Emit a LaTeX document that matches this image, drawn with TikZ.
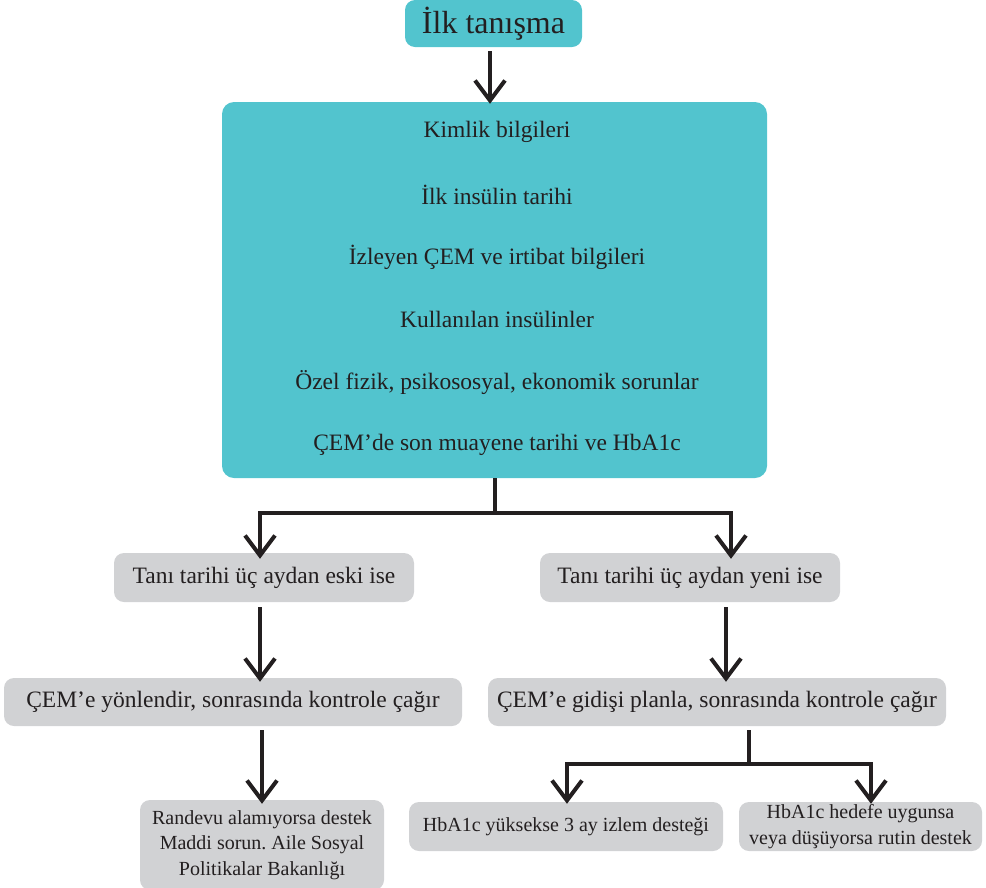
\documentclass[tikz,border=0pt]{standalone}
\usepackage{fontspec}
\setmainfont{Liberation Serif}
\usetikzlibrary{arrows.meta}
\definecolor{teal1}{HTML}{52C4CE}
\definecolor{gray1}{HTML}{D1D2D4}
\definecolor{ink}{HTML}{231F20}
\frenchspacing
\begin{document}
\begin{tikzpicture}[x=1pt,y=-1pt,
  tealbox/.style={fill=teal1,rounded corners=10pt,inner sep=0pt,text=ink},
  graybox/.style={fill=gray1,rounded corners=10pt,inner sep=0pt,text=ink,align=center},
  conn/.style={draw=ink,line width=4pt},
  arr/.style={conn,-{Straight Barb[length=20pt,width=30pt,line width=4pt]}},
  midtext/.style={font=\fontsize{23.5}{28}\selectfont},
  smalltext/.style={font=\fontsize{20}{25.5}\selectfont}
]
\useasboundingbox (0,0) rectangle (986,887);

% top node
\node[tealbox,minimum width=177pt,minimum height=47pt,font=\fontsize{32}{36}\selectfont] (top) at (493.5,23.5) {İlk tanışma};

% big box
\node[tealbox,minimum width=545pt,minimum height=376pt,rounded corners=12pt] (big) at (494.5,290) {};
\foreach \t [count=\i from 0] in {Kimlik bilgileri,İlk insülin tarihi,İzleyen ÇEM ve irtibat bilgileri,Kullanılan insülinler,{Özel fizik, psikososyal, ekonomik sorunlar},ÇEM’de son muayene tarihi ve HbA1c}
  \node[midtext,text=ink] (l\i) at (497,{132+62.6*\i}) {\t};

% second level
\node[graybox,midtext,minimum width=300pt,minimum height=49pt] (eski) at (264,577.5) {Tanı tarihi üç aydan eski ise};
\node[graybox,midtext,minimum width=300pt,minimum height=49pt] (yeni) at (690,577.5) {Tanı tarihi üç aydan yeni ise};

% third level
\node[graybox,midtext,minimum width=458pt,minimum height=48pt] (yon) at (233,702) {ÇEM’e yönlendir, sonrasında kontrole çağır};
\node[graybox,midtext,minimum width=458pt,minimum height=48pt] (plan) at (717,702) {ÇEM’e gidişi planla, sonrasında kontrole çağır};

% bottom level
\node[graybox,smalltext,minimum width=244pt,minimum height=90pt] (rand) at (262,845) {Randevu alamıyorsa destek\\Maddi sorun. Aile Sosyal\\Politikalar Bakanlığı};
\node[graybox,smalltext,minimum width=314pt,minimum height=49pt] (yuk) at (566,826.5) {HbA1c yüksekse 3 ay izlem desteği};
\node[graybox,smalltext,minimum width=243pt,minimum height=49pt] (uyg) at (860.5,826.5) {HbA1c hedefe uygunsa\\veya düşüyorsa rutin destek};

% connectors
\coordinate (a0) at (490,51);
\draw[arr] (a0) -- ([yshift=-2pt]a0 |- big.north);
\coordinate (b0) at (495,478);
\coordinate (b1) at (495,513);
\draw[conn] (b0) -- (b1);
\coordinate (bl) at (260,513);
\coordinate (br) at (731,513);
\draw[conn,line cap=rect] (bl) -- (br);
\draw[arr] (bl) -- ([yshift=-6pt]bl |- eski.north);
\draw[arr] (br) -- ([yshift=-6pt]br |- yeni.north);
\coordinate (c0) at (260,607);
\coordinate (c1) at (726,607);
\draw[arr] (c0) -- ([yshift=-4pt]c0 |- yon.north);
\draw[arr] (c1) -- ([yshift=-4pt]c1 |- plan.north);
\coordinate (d0) at (262,730);
\draw[arr] (d0) -- ([yshift=-4pt]d0 |- rand.north);
\coordinate (e0) at (749,730);
\coordinate (e1) at (749,764);
\draw[conn] (e0) -- (e1);
\coordinate (el) at (567,764);
\coordinate (er) at (871,764);
\draw[conn,line cap=rect] (el) -- (er);
\draw[arr] (el) -- ([yshift=-2pt]el |- yuk.north);
\draw[arr] (er) -- ([yshift=-2pt]er |- uyg.north);
\end{tikzpicture}
\end{document}
